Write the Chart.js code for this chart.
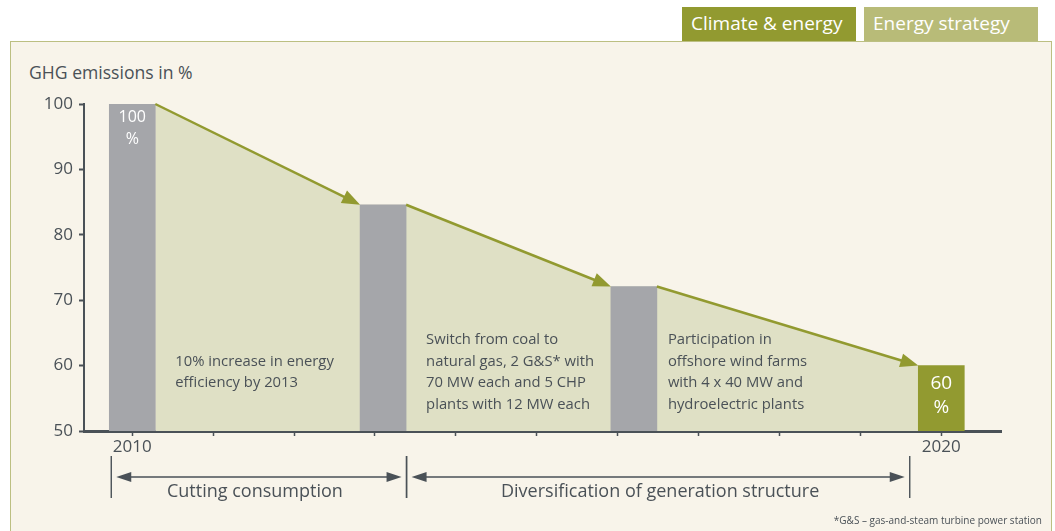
<!DOCTYPE html>
<html><head><meta charset="utf-8">
<script src="https://cdn.jsdelivr.net/npm/chart.js@4"></script>
<style>
html,body{margin:0;padding:0;background:#fff;width:1055px;height:531px;overflow:hidden;font-family:"Open Sans",sans-serif;}
#panel{position:absolute;left:10px;top:41px;width:1042px;height:510px;background:#f8f4ea;border:1.5px solid #bcbf82;box-sizing:border-box;}
.tab{position:absolute;top:7px;height:34px;line-height:33px;color:#fff;font-size:19px;padding-left:9px;box-sizing:border-box;white-space:nowrap;}
#tab1{left:682px;width:174px;background:#929a30;}
#tab2{left:864px;width:174px;background:#b8bb78;}
#title{position:absolute;left:29px;top:61px;font-size:17.6px;line-height:22px;color:#4a5157;white-space:nowrap;}
#foot{position:absolute;right:13px;top:512px;font-size:10px;line-height:16px;color:#4a5157;white-space:nowrap;}
canvas{position:absolute;left:0;top:0;}
</style></head>
<body>
<div id="panel"></div>
<div class="tab" id="tab1">Climate &amp; energy</div>
<div class="tab" id="tab2">Energy strategy</div>
<div id="title">GHG emissions in %</div>
<canvas id="c" width="1055" height="531"></canvas>
<div id="foot">*G&amp;S – gas-and-steam turbine power station</div>
<script>
// ---- data ----
const years = [2010, 2013.1, 2016.2, 2020];
const emissions = [100, 84.6, 72.1, 60];
const barLabels = [['100', '%'], [], [], ['60', '%']];
const yMin = 50, yMax = 100, yStep = 10;
const xMin = 2009.403, xMax = 2020.738;
const labelledYears = [2010, 2020];
const measures = [
  ['10% increase in energy', 'efficiency by 2013'],
  ['Switch from coal to', 'natural gas, 2 G&S* with', '70 MW each and 5 CHP', 'plants with 12 MW each'],
  ['Participation in', 'offshore wind farms', 'with 4 x 40 MW and', 'hydroelectric plants']
];
const periodLabels = ['Cutting consumption', 'Diversification of generation structure'];
const periodStart = [2009.74, 2013.39];
const periodEnd = [2013.39, 2019.61];

// ---- styles ----
const FONT = '"Open Sans", sans-serif';
const INK = '#4a5157';
const OLIVE = '#929a30';
const GREY = '#a5a6aa';
const FILL = '#dfe0c5';
const barColors = [GREY, GREY, GREY, OLIVE];
const barLabelSizes = [16, 0, 0, 19];
const barLabelOffsets = [[13, 35], [], [], [18, 42]];
const measureOffsets = [20, 20, 11];
const measureCenterValue = 59;
const periodTextShift = [-4, 2];

function arrowHead(ctx, tx, ty, fx, fy, len, half) {
  const a = Math.atan2(ty - fy, tx - fx);
  ctx.beginPath();
  ctx.moveTo(tx, ty);
  ctx.lineTo(tx - len * Math.cos(a) + half * Math.sin(a), ty - len * Math.sin(a) - half * Math.cos(a));
  ctx.lineTo(tx - len * Math.cos(a) - half * Math.sin(a), ty - len * Math.sin(a) + half * Math.cos(a));
  ctx.closePath();
  ctx.fill();
}

const connector = {
  id: 'connector',
  beforeDatasetsDraw(chart) {
    const els = chart.getDatasetMeta(0).data;
    const ctx = chart.ctx;
    const bottom = chart.scales.y.getPixelForValue(yMin);
    ctx.save();
    ctx.beginPath();
    ctx.moveTo(els[0].x + els[0].width / 2, bottom);
    els.forEach((e, i) => {
      const l = e.x - e.width / 2, r = e.x + e.width / 2;
      if (i > 0) ctx.lineTo(l, e.y);
      if (i < els.length - 1) ctx.lineTo(r, e.y);
    });
    const last = els[els.length - 1];
    ctx.lineTo(last.x - last.width / 2, bottom);
    ctx.closePath();
    ctx.fillStyle = FILL;
    ctx.fill();
    ctx.restore();
  },
  afterDatasetsDraw(chart) {
    const els = chart.getDatasetMeta(0).data;
    const ctx = chart.ctx;
    ctx.save();
    ctx.strokeStyle = OLIVE; ctx.fillStyle = OLIVE; ctx.lineWidth = 2.5;
    for (let i = 0; i < els.length - 1; i++) {
      const a = els[i], b = els[i + 1];
      const x1 = a.x + a.width / 2, y1 = a.y, x2 = b.x - b.width / 2, y2 = b.y;
      const ang = Math.atan2(y2 - y1, x2 - x1);
      const len = 18;
      ctx.beginPath();
      ctx.moveTo(x1, y1);
      ctx.lineTo(x2 - (len - 2) * Math.cos(ang), y2 - (len - 2) * Math.sin(ang));
      ctx.stroke();
      arrowHead(ctx, x2, y2, x1, y1, len, 7);
    }
    ctx.fillStyle = '#ffffff';
    ctx.textAlign = 'center'; ctx.textBaseline = 'middle';
    els.forEach((e, i) => {
      ctx.font = barLabelSizes[i] + 'px ' + FONT;
      barLabels[i].forEach((t, j) => ctx.fillText(t, e.x, e.y + barLabelOffsets[i][j]));
    });
    ctx.fillStyle = INK; ctx.textAlign = 'left';
    ctx.font = '14.8px ' + FONT;
    const cy = chart.scales.y.getPixelForValue(measureCenterValue);
    const lh = 21.5;
    measures.forEach((lines, i) => {
      const x = els[i].x + els[i].width / 2 + measureOffsets[i];
      const y0 = cy - (lines.length - 1) * lh / 2;
      lines.forEach((t, j) => ctx.fillText(t, x, y0 + j * lh));
    });
    ctx.restore();
  },
  afterDraw(chart) {
    const ctx = chart.ctx;
    const xs = chart.scales.x;
    const yLine = 477, yTop = 456, yBot = 498, yText = 492;
    ctx.save();
    ctx.strokeStyle = INK; ctx.fillStyle = INK; ctx.lineWidth = 1.4;
    periodLabels.forEach((lab, i) => {
      const a = xs.getPixelForValue(periodStart[i]);
      const b = xs.getPixelForValue(periodEnd[i]);
      ctx.beginPath();
      ctx.moveTo(a, yTop); ctx.lineTo(a, yBot);
      ctx.moveTo(b, yTop); ctx.lineTo(b, yBot);
      ctx.stroke();
      ctx.beginPath();
      ctx.moveTo(a + 12, yLine); ctx.lineTo(b - 12, yLine);
      ctx.stroke();
      arrowHead(ctx, a + 5, yLine, a + 30, yLine, 15, 5);
      arrowHead(ctx, b - 5, yLine, b - 30, yLine, 15, 5);
      ctx.font = '18px ' + FONT;
      ctx.textAlign = 'center'; ctx.textBaseline = 'middle';
      ctx.fillText(lab, (a + b) / 2 + periodTextShift[i], yText);
    });
    ctx.restore();
  }
};

new Chart(document.getElementById('c'), {
  type: 'bar',
  data: {
    datasets: [{
      data: years.map((x, i) => ({ x: x, y: [yMin, emissions[i]] })),
      backgroundColor: barColors,
      borderWidth: 0,
      barThickness: 46,
      grouped: false
    }]
  },
  options: {
    responsive: false,
    animation: false,
    devicePixelRatio: 1,
    layout: { padding: { top: 104, right: 54, bottom: 0, left: 0 } },
    plugins: { legend: { display: false }, tooltip: { enabled: false } },
    scales: {
      x: {
        type: 'linear', min: xMin, max: xMax, offset: false,
        grid: { display: true, offset: false, drawOnChartArea: false, drawTicks: true, tickLength: 5, tickWidth: 1.5, tickColor: INK },
        border: { display: true, color: INK, width: 3 },
        ticks: {
          stepSize: 1, includeBounds: false, autoSkip: false, maxRotation: 0, padding: 1,
          color: INK, font: { family: FONT, size: 17 },
          callback: v => labelledYears.includes(v) ? String(v) : ''
        },
        afterFit(s) { s.height = 100; }
      },
      y: {
        min: yMin, max: yMax,
        grid: { display: true, offset: false, drawOnChartArea: false, drawTicks: true, tickLength: 5, tickWidth: 2, tickColor: INK },
        border: { display: true, color: INK, width: 2 },
        ticks: { stepSize: yStep, padding: 6, color: INK, font: { family: FONT, size: 17 } },
        afterFit(s) { s.width = 84; }
      }
    }
  },
  plugins: [connector]
});
</script>
</body></html>
